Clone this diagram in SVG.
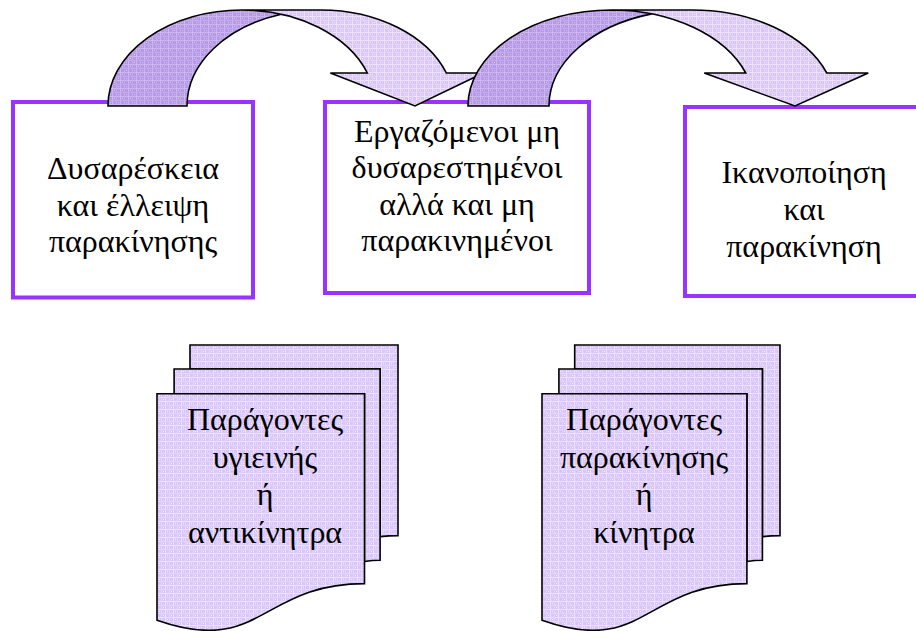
<svg xmlns="http://www.w3.org/2000/svg" width="916" height="631" viewBox="0 0 916 631">
  <defs>
    <!-- fine grid fill, light lavender -->
    <pattern id="gridLight" width="8" height="8" patternUnits="userSpaceOnUse">
      <rect width="8" height="8" fill="#D9C5F7"/>
      <rect x="0" y="0" width="8" height="1" fill="#EDE3FD"/>
      <rect x="0" y="0" width="1" height="8" fill="#EDE3FD"/>
      <rect x="4" y="0" width="1" height="8" fill="#E3D5FB"/>
      <rect x="0" y="4" width="8" height="1" fill="#E3D5FB"/>
      <rect x="2" y="2" width="1" height="1" fill="#F4EEFE"/>
      <rect x="6" y="6" width="1" height="1" fill="#F4EEFE"/>
    </pattern>
    <!-- same grid, shaded side of the curved arrows -->
    <pattern id="gridDark" width="8" height="8" patternUnits="userSpaceOnUse">
      <rect width="8" height="8" fill="#B699E6"/>
      <rect x="0" y="0" width="8" height="1" fill="#CDB8F0"/>
      <rect x="0" y="0" width="1" height="8" fill="#CDB8F0"/>
      <rect x="4" y="0" width="1" height="8" fill="#C3AAEC"/>
      <rect x="0" y="4" width="8" height="1" fill="#C3AAEC"/>
      <rect x="2" y="2" width="1" height="1" fill="#D8C8F3"/>
      <rect x="6" y="6" width="1" height="1" fill="#D8C8F3"/>
    </pattern>
  </defs>
  <style>
    .box { fill: #FFFFFF; stroke: #9933FF; stroke-width: 4; }
    .lbl { font-family: "Liberation Serif", "Times New Roman", serif; font-size: 32px; fill: #000000; text-anchor: middle; }
    .arrowLight { fill: url(#gridLight); stroke: none; }
    .arrowDark { fill: url(#gridDark); stroke: none; }
    .outline { fill: none; stroke: #000000; stroke-width: 1.6; stroke-linejoin: miter; }
    .doc { fill: url(#gridLight); stroke: #000000; stroke-width: 1.6; }
  </style>

  <rect width="916" height="631" fill="#FFFFFF"/>

  <!-- state boxes -->
  <g id="node-dissatisfaction">
    <rect class="box" x="13" y="102" width="240" height="195.5"/>
    <text class="lbl" x="133" y="179">Δυσαρέσκεια</text>
    <text class="lbl" x="133" y="215.5">και έλλειψη</text>
    <text class="lbl" x="133" y="252">παρακίνησης</text>
  </g>

  <g id="node-neutral">
    <rect class="box" x="325" y="102" width="264" height="191"/>
    <text class="lbl" x="457" y="141.5">Εργαζόμενοι μη</text>
    <text class="lbl" x="457" y="178">δυσαρεστημένοι</text>
    <text class="lbl" x="457" y="214.5">αλλά και μη</text>
    <text class="lbl" x="457" y="251">παρακινημένοι</text>
  </g>

  <g id="node-satisfaction">
    <rect class="box" x="685" y="107" width="240" height="189"/>
    <text class="lbl" x="804" y="183">Ικανοποίηση</text>
    <text class="lbl" x="804" y="220">και</text>
    <text class="lbl" x="804" y="257">παρακίνηση</text>
  </g>

  <!-- curved transition arrows -->
  <g id="connectors">
    <g id="arrow-1">
      <path class="arrowLight" d="M415,106 L330.35,73 L367.35,73 A133.75,96 0 0 0 241.75,10 L320.75,10 A133.75,96 0 0 1 446.35,73 L483.35,73 Z"/>
      <path class="arrowDark" d="M281.25,14.3 A133.75,96 0 0 0 187,106 L108,106 A133.75,96 0 0 1 281.25,14.3 Z"/>
      <path class="outline" d="M281.25,14.3 A133.75,96 0 0 0 187,106 L108,106 A133.75,96 0 0 1 241.75,10 L320.75,10 A133.75,96 0 0 1 446.35,73 L483.35,73 L415,106 L330.35,73 L367.35,73 A133.75,96 0 0 0 241.75,10"/>
    </g>
    <g id="arrow-2">
      <path class="arrowLight" d="M795,106 L704.25,73 L745.75,73 A143.25,96 0 0 0 611.25,10 L692.25,10 A143.25,96 0 0 1 826.75,73 L868.25,73 Z"/>
      <path class="arrowDark" d="M651.75,13.9 A143.25,96 0 0 0 549,106 L468,106 A143.25,96 0 0 1 651.75,13.9 Z"/>
      <path class="outline" d="M651.75,13.9 A143.25,96 0 0 0 549,106 L468,106 A143.25,96 0 0 1 611.25,10 L692.25,10 A143.25,96 0 0 1 826.75,73 L868.25,73 L795,106 L704.25,73 L745.75,73 A143.25,96 0 0 0 611.25,10"/>
    </g>
  </g>

  <!-- factor document stacks -->
  <g id="node-hygiene-factors" transform="translate(157,345)">
    <path class="doc" d="M33,0 L241,0 L241,190.6 C232,190.6 223.1,191.6 223.1,191.6 L223.1,24 L33,24 Z"/>
    <path class="doc" d="M17.1,24 L223.1,24 L223.1,215.2 C215.3,215.2 207.5,216.5 207.5,216.5 L207.5,48.7 L17.1,48.7 Z"/>
    <path class="doc" d="M0,48.7 L207.5,48.7 L207.5,238.6 C103.8,238.6 103.8,311.7 0,275.2 Z"/>
    <text class="lbl" x="108" y="85">Παράγοντες</text>
    <text class="lbl" x="108" y="122.5">υγιεινής</text>
    <text class="lbl" x="108" y="160">ή</text>
    <text class="lbl" x="108" y="198">αντικίνητρα</text>
  </g>

  <g id="node-motivation-factors" transform="translate(542,345)">
    <path class="doc" d="M32.7,0 L238,0 L238,190.6 C229.2,190.6 220.4,191.6 220.4,191.6 L220.4,24 L32.7,24 Z"/>
    <path class="doc" d="M16.9,24 L220.4,24 L220.4,215.2 C212.6,215.2 204.9,216.5 204.9,216.5 L204.9,48.7 L16.9,48.7 Z"/>
    <path class="doc" d="M0,48.7 L204.9,48.7 L204.9,238.6 C102.4,238.6 102.4,311.7 0,275.2 Z"/>
    <text class="lbl" x="102" y="85">Παράγοντες</text>
    <text class="lbl" x="102" y="122.5">παρακίνησης</text>
    <text class="lbl" x="102" y="160">ή</text>
    <text class="lbl" x="102" y="198">κίνητρα</text>
  </g>
</svg>
